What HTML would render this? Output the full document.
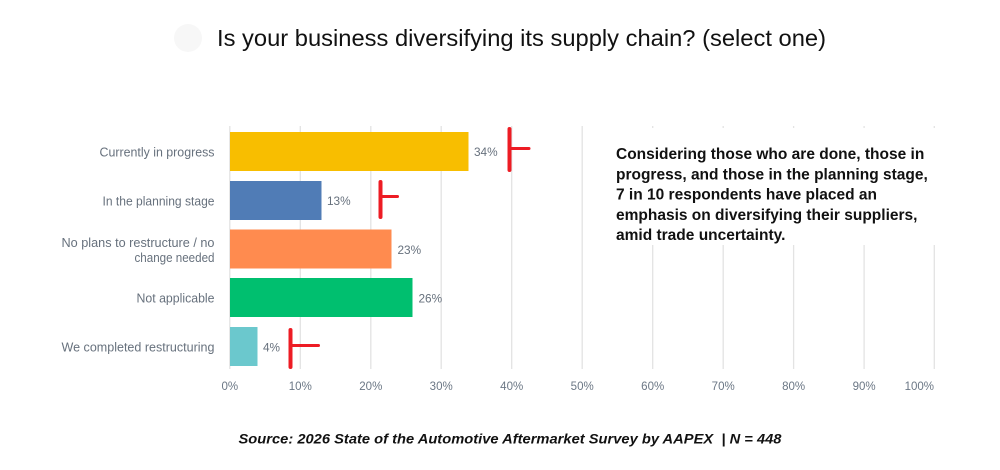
<!DOCTYPE html>
<html>
<head>
<meta charset="utf-8">
<style>
  html,body{margin:0;padding:0;background:#fff;}
  svg{display:block;}
</style>
</head>
<body>
<svg width="1000" height="470" viewBox="0 0 1000 470" xmlns="http://www.w3.org/2000/svg">
  <rect x="0" y="0" width="1000" height="470" fill="#ffffff"/>

  <!-- title -->
  <circle cx="188" cy="38" r="14" fill="#f7f7f7"/>
  <text x="217" y="46" font-family="Liberation Sans, Arial, sans-serif" font-size="23.5" fill="#111111" textLength="609" lengthAdjust="spacingAndGlyphs">Is your business diversifying its supply chain? (select one)</text>

  <!-- gridlines -->
  <g stroke="#e3e3e3" stroke-width="1.3">
    <line x1="229.8" y1="126" x2="229.8" y2="369"/>
    <line x1="300.3" y1="126" x2="300.3" y2="369"/>
    <line x1="370.8" y1="126" x2="370.8" y2="369"/>
    <line x1="441.2" y1="126" x2="441.2" y2="369"/>
    <line x1="511.7" y1="126" x2="511.7" y2="369"/>
    <line x1="582.2" y1="126" x2="582.2" y2="369"/>
    <line x1="652.7" y1="126" x2="652.7" y2="369"/>
    <line x1="723.2" y1="126" x2="723.2" y2="369"/>
    <line x1="793.6" y1="126" x2="793.6" y2="369"/>
    <line x1="864.1" y1="126" x2="864.1" y2="369"/>
    <line x1="934.3" y1="126" x2="934.3" y2="369"/>
  </g>

  <!-- text box background -->
  <rect x="600" y="128" width="345" height="117" fill="#ffffff"/>

  <!-- bars -->
  <rect x="230" y="132" width="238.5" height="39" fill="#F8BE00"/>
  <rect x="230" y="181" width="91.5" height="39" fill="#507CB6"/>
  <rect x="230" y="229.5" width="161.5" height="39" fill="#FF8B4F"/>
  <rect x="230" y="278" width="182.5" height="39" fill="#00BF6F"/>
  <rect x="230" y="327" width="27.5" height="39" fill="#6BC8CD"/>

  <!-- category labels -->
  <g font-family="Liberation Sans, Arial, sans-serif" font-size="12.5" fill="#67717d" text-anchor="end">
    <text x="214.5" y="156.5" textLength="115" lengthAdjust="spacingAndGlyphs">Currently in progress</text>
    <text x="214.5" y="205.5" textLength="112" lengthAdjust="spacingAndGlyphs">In the planning stage</text>
    <text x="214.5" y="247.2" textLength="153" lengthAdjust="spacingAndGlyphs">No plans to restructure / no</text>
    <text x="214.5" y="261.8" textLength="80" lengthAdjust="spacingAndGlyphs">change needed</text>
    <text x="214.5" y="302.3" textLength="78" lengthAdjust="spacingAndGlyphs">Not applicable</text>
    <text x="214.5" y="351.3" textLength="153" lengthAdjust="spacingAndGlyphs">We completed restructuring</text>
  </g>

  <!-- value labels -->
  <g font-family="Liberation Sans, Arial, sans-serif" font-size="11.8" fill="#67717d">
    <text x="474" y="155.8">34%</text>
    <text x="327" y="204.8">13%</text>
    <text x="397.5" y="253.8">23%</text>
    <text x="418.5" y="302.3">26%</text>
    <text x="263" y="351.3">4%</text>
  </g>

  <!-- axis labels -->
  <g font-family="Liberation Sans, Arial, sans-serif" font-size="11.5" fill="#6b7785" text-anchor="middle">
    <text x="229.8" y="390">0%</text>
    <text x="300.3" y="390">10%</text>
    <text x="370.8" y="390">20%</text>
    <text x="441.2" y="390">30%</text>
    <text x="511.7" y="390">40%</text>
    <text x="582.2" y="390">50%</text>
    <text x="652.7" y="390">60%</text>
    <text x="723.2" y="390">70%</text>
    <text x="793.6" y="390">80%</text>
    <text x="864.1" y="390">90%</text>
    <text x="934" y="390" text-anchor="end">100%</text>
  </g>

  <!-- red markers -->
  <g stroke="#ED1C24" stroke-linecap="round" fill="none">
    <line x1="509.5" y1="129" x2="509.5" y2="170" stroke-width="4"/>
    <line x1="510" y1="148.5" x2="529" y2="148.5" stroke-width="3"/>
    <line x1="380.5" y1="182" x2="380.5" y2="217" stroke-width="4"/>
    <line x1="381" y1="196.5" x2="397.5" y2="196.5" stroke-width="3"/>
    <line x1="290.5" y1="330" x2="290.5" y2="367" stroke-width="4"/>
    <line x1="291" y1="345.5" x2="318.5" y2="345.5" stroke-width="3"/>
  </g>

  <!-- annotation text -->
  <g font-family="Liberation Sans, Arial, sans-serif" font-size="15.5" font-weight="bold" fill="#111111">
    <text x="616" y="159">Considering those who are done, those in</text>
    <text x="616" y="179.3">progress, and those in the planning stage,</text>
    <text x="616" y="199.6">7 in 10 respondents have placed an</text>
    <text x="616" y="219.9">emphasis on diversifying their suppliers,</text>
    <text x="616" y="240.2">amid trade uncertainty.</text>
  </g>

  <!-- source -->
  <text x="238.5" y="443.5" font-family="Liberation Sans, Arial, sans-serif" font-size="13.5" font-weight="bold" font-style="italic" fill="#111111" textLength="543" lengthAdjust="spacingAndGlyphs" xml:space="preserve">Source: 2026 State of the Automotive Aftermarket Survey by AAPEX  | N = 448</text>
</svg>
</body>
</html>
